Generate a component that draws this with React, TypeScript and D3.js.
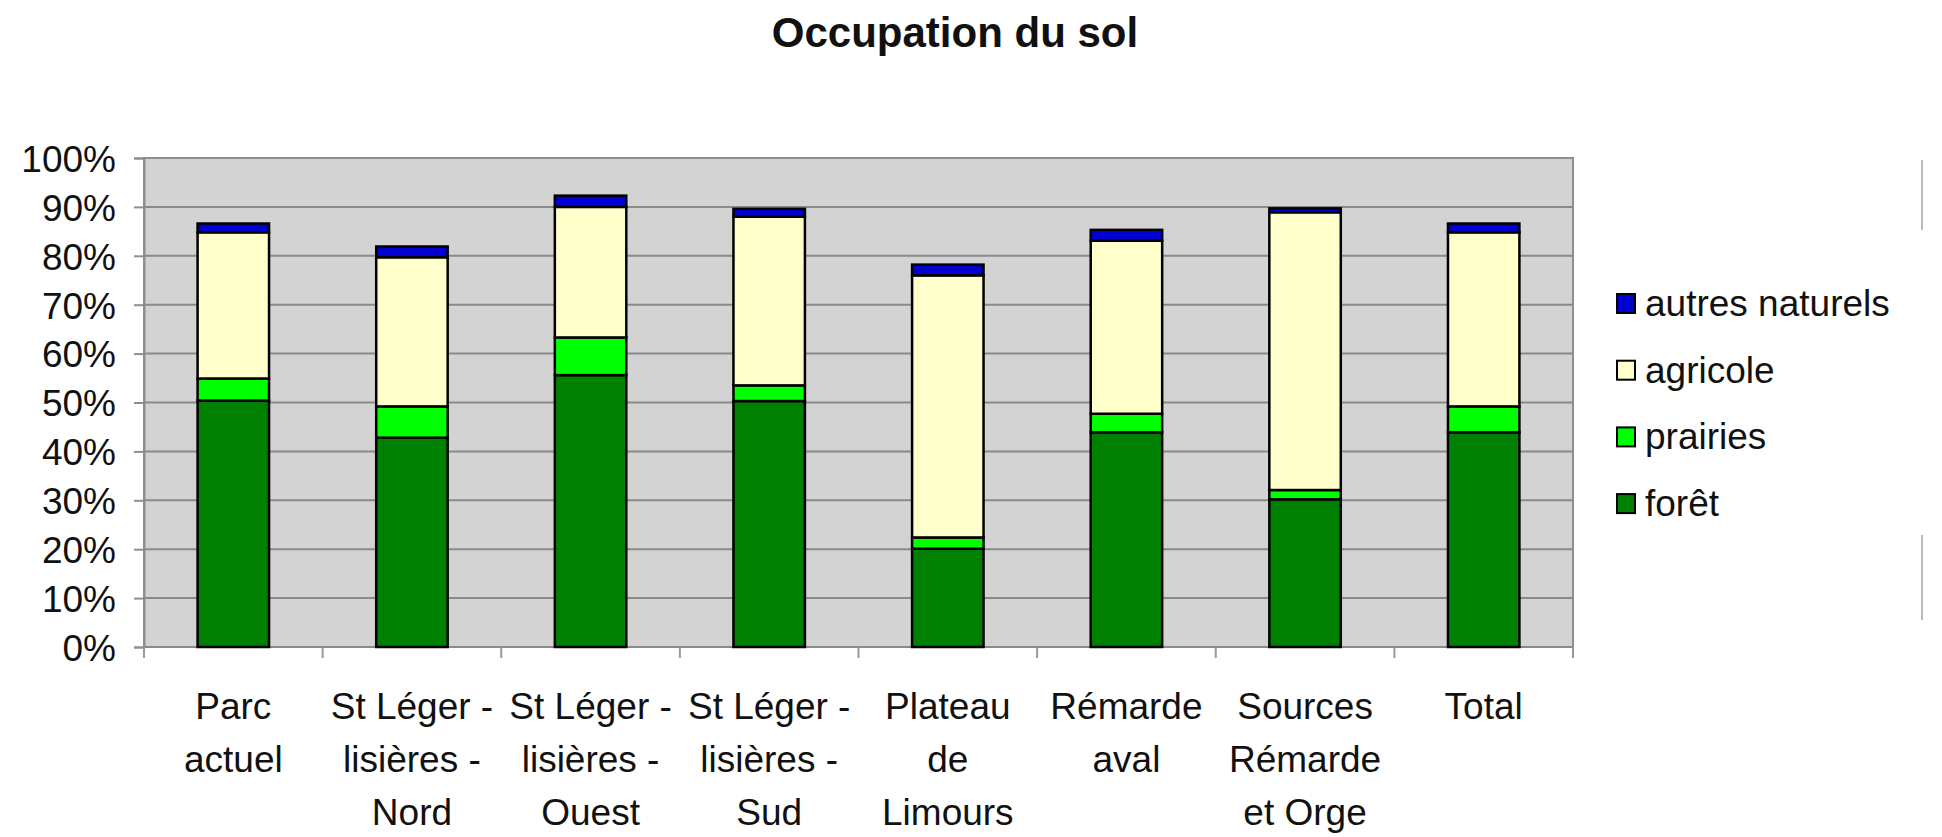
import React, { useEffect, useRef } from 'react';
import * as d3 from 'd3';

const categories = [
  ['Parc', 'actuel'],
  ['St Léger -', 'lisières -', 'Nord'],
  ['St Léger -', 'lisières -', 'Ouest'],
  ['St Léger -', 'lisières -', 'Sud'],
  ['Plateau', 'de', 'Limours'],
  ['Rémarde', 'aval'],
  ['Sources', 'Rémarde', 'et Orge'],
  ['Total']
];

// values in %, bottom to top
const foret = [50.4, 42.8, 55.6, 50.3, 20.1, 43.9, 30.2, 43.9];
const prairies = [4.5, 6.4, 7.7, 3.2, 2.3, 3.8, 1.9, 5.3];
const agricole = [29.9, 30.5, 26.7, 34.5, 53.6, 35.4, 56.8, 35.6];
const autres = [1.8, 2.2, 2.3, 1.6, 2.2, 2.2, 0.8, 1.8];

const seriesNames = ['forêt', 'prairies', 'agricole', 'autres naturels'];
const seriesColors = ['#008000', '#00ff00', '#ffffcc', '#0000d0'];
const yTicks = [0, 10, 20, 30, 40, 50, 60, 70, 80, 90, 100];

const width = 1942;
const height = 837;
const font = "'Liberation Sans', Arial, Helvetica, sans-serif";

const App = () => {
  const container = useRef(null);

  useEffect(() => {
    createChart();
  }, []);

  const createChart = () => {
    const svg = d3
      .select(container.current)
      .selectAll('svg')
      .data([0])
      .join('svg')
      .attr('width', width)
      .attr('height', height)
      .style('display', 'block')
      .style('background', '#ffffff');

    svg.selectAll('*').remove();

    const margins = { l: 144, t: 158, r: 369, b: 190 };
    const plotwidth = width - margins.l - margins.r;
    const plotheight = height - margins.t - margins.b;

    const idx = categories.map((c, i) => i);
    const rows = idx.map(i => ({
      i,
      'forêt': foret[i],
      prairies: prairies[i],
      agricole: agricole[i],
      'autres naturels': autres[i]
    }));
    const stacked = d3.stack().keys(seriesNames)(rows);

    const xScale = d3
      .scaleBand()
      .domain(idx)
      .range([0, plotwidth])
      .paddingInner(0.6)
      .paddingOuter(0.3);

    const yScale = d3.scaleLinear().domain([0, 100]).range([plotheight, 0]);

    const plotg = svg
      .append('g')
      .attr('transform', `translate(${margins.l},${margins.t})`);

    // plot background
    plotg
      .append('rect')
      .attr('width', plotwidth)
      .attr('height', plotheight)
      .attr('fill', '#d3d3d3')
      .attr('stroke', '#8e8e8e')
      .attr('stroke-width', 2);

    // gridlines + y ticks
    const yAxis = d3
      .axisLeft(yScale)
      .tickValues(yTicks)
      .tickSize(10)
      .tickPadding(18)
      .tickFormat(d => d + '%');
    const yaxisg = plotg.append('g').call(yAxis);
    yaxisg.select('.domain').attr('stroke', '#8e8e8e').attr('stroke-width', 2);
    yaxisg.selectAll('.tick line').attr('stroke', '#8e8e8e').attr('stroke-width', 2);
    yaxisg
      .selectAll('.tick text')
      .attr('font-family', font)
      .attr('font-size', 37)
      .attr('fill', '#111')
      .attr('dy', '0.36em');

    plotg
      .append('g')
      .selectAll('line')
      .data(yTicks.slice(1, -1))
      .join('line')
      .attr('x1', 0)
      .attr('x2', plotwidth)
      .attr('y1', d => yScale(d))
      .attr('y2', d => yScale(d))
      .attr('stroke', '#8a8a8a')
      .attr('stroke-width', 2);

    // x axis with tick marks at band boundaries
    const step = xScale.step();
    const bounds = d3.range(categories.length + 1).map(k => k * step);
    plotg
      .append('line')
      .attr('x1', 0)
      .attr('x2', plotwidth)
      .attr('y1', plotheight)
      .attr('y2', plotheight)
      .attr('stroke', '#8a8a8a')
      .attr('stroke-width', 2);
    plotg
      .append('g')
      .selectAll('line')
      .data(bounds)
      .join('line')
      .attr('x1', d => d)
      .attr('x2', d => d)
      .attr('y1', plotheight)
      .attr('y2', plotheight + 11)
      .attr('stroke', '#9a9a9a')
      .attr('stroke-width', 2);

    // bars
    plotg
      .append('g')
      .selectAll('g')
      .data(stacked)
      .join('g')
      .attr('fill', (d, k) => seriesColors[k])
      .selectAll('rect')
      .data(d => d)
      .join('rect')
      .attr('x', d => xScale(d.data.i))
      .attr('width', xScale.bandwidth())
      .attr('y', d => yScale(d[1]))
      .attr('height', d => yScale(d[0]) - yScale(d[1]))
      .attr('stroke', '#000')
      .attr('stroke-width', 2.5);

    // category labels
    const labelg = plotg
      .append('g')
      .selectAll('text')
      .data(categories)
      .join('text')
      .attr('text-anchor', 'middle')
      .attr('font-family', font)
      .attr('font-size', 37)
      .attr('fill', '#111')
      .attr('transform', (d, i) => `translate(${xScale(i) + xScale.bandwidth() / 2},${plotheight + 72})`);
    labelg
      .selectAll('tspan')
      .data(d => d)
      .join('tspan')
      .attr('x', 0)
      .attr('y', (d, j) => j * 53)
      .text(d => d);

    // title
    svg
      .append('text')
      .attr('x', 955)
      .attr('y', 47)
      .attr('text-anchor', 'middle')
      .attr('font-family', font)
      .attr('font-weight', 'bold')
      .attr('font-size', 42)
      .attr('fill', '#111')
      .text('Occupation du sol');

    // legend (top entry = last series)
    const legendItems = seriesNames.map((n, k) => ({ n, c: seriesColors[k] })).reverse();
    const legendg = svg
      .append('g')
      .attr('transform', 'translate(1617,303)');
    const items = legendg
      .selectAll('g')
      .data(legendItems)
      .join('g')
      .attr('transform', (d, k) => `translate(0,${k * 66.7})`);
    items
      .append('rect')
      .attr('x', 0)
      .attr('y', -9)
      .attr('width', 18)
      .attr('height', 19)
      .attr('fill', d => d.c)
      .attr('stroke', '#000')
      .attr('stroke-width', 2);
    items
      .append('text')
      .attr('x', 28)
      .attr('y', 13)
      .attr('font-family', font)
      .attr('font-size', 37)
      .attr('fill', '#111')
      .text(d => d.n);

    // remnants of the outer frame on the right
    svg
      .append('g')
      .selectAll('line')
      .data([[160, 230], [535, 620]])
      .join('line')
      .attr('x1', 1922)
      .attr('x2', 1922)
      .attr('y1', d => d[0])
      .attr('y2', d => d[1])
      .attr('stroke', '#bbbbbb')
      .attr('stroke-width', 2);
  };

  return (
    <div className="chart-container" ref={container}>
      <style>{'body{margin:0}'}</style>
    </div>
  );
};

export default App;
